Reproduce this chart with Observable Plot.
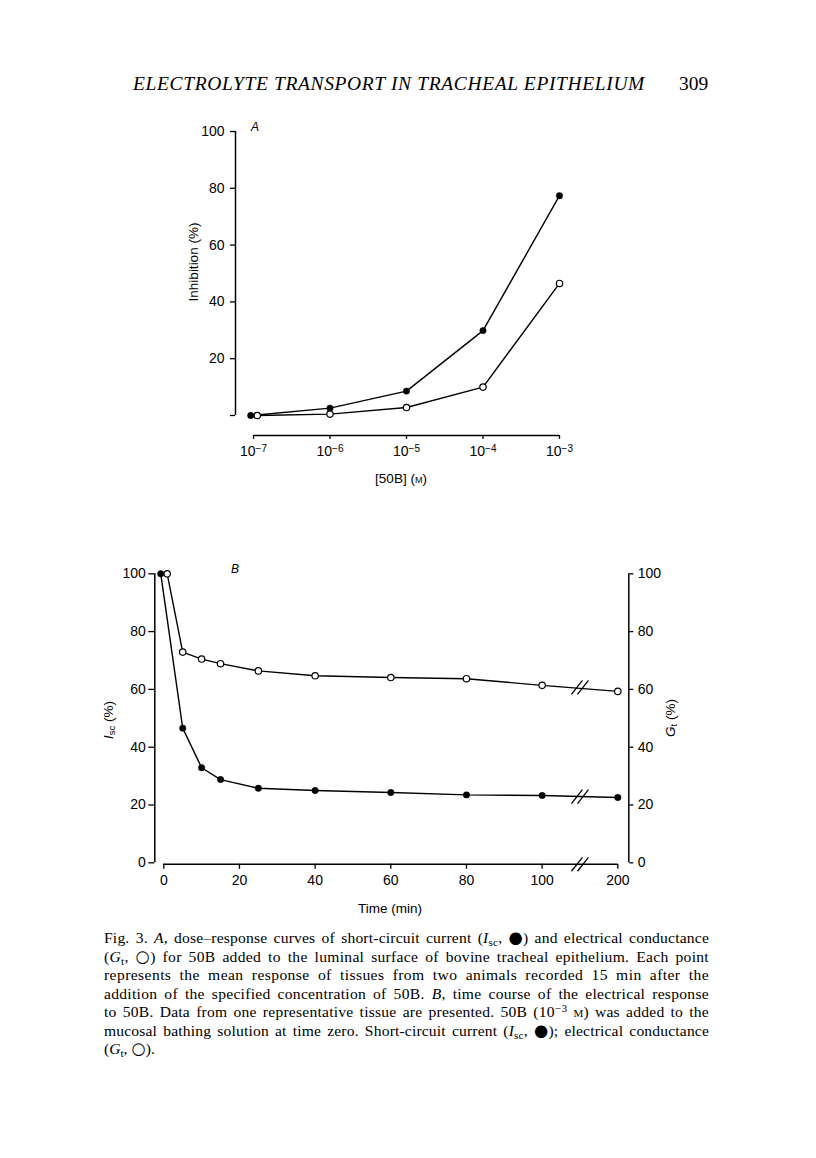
<!DOCTYPE html>
<html>
<head>
<meta charset="utf-8">
<script src="https://cdn.jsdelivr.net/npm/d3@7"></script>
<script src="https://cdn.jsdelivr.net/npm/@observablehq/plot@0.6"></script>
<style>
  body { margin: 0; background: #fff; }
  #page { position: relative; width: 816px; height: 1158px; overflow: hidden; background: #fff; color: #000; }
  .abs { position: absolute; white-space: nowrap; }
  .serif { font-family: "Liberation Serif", "Times New Roman", serif; }
  .sans { font-family: "Liberation Sans", Arial, sans-serif; }
  .rot { transform: translate(-50%, -50%) rotate(-90deg); }
  .ctr { transform: translate(-50%, -50%); }
  #caption { position: absolute; left: 104px; top: 929px; width: 605px; font-size: 15.6px; line-height: 18.5px; }
  #caption .ln { display: block; height: 18.5px; }
  #caption .ln span.t { display: inline-block; white-space: nowrap; }
  .dot { font-family: "DejaVu Sans", sans-serif; font-size: 1.05em; line-height: 0; }
  sub { font-size: 0.72em; line-height: 0; vertical-align: -0.3em; }
  sup { font-size: 0.72em; line-height: 0; vertical-align: 0.45em; }
  .sc { font-variant: small-caps; }
</style>
</head>
<body>
<div id="page">
  <div id="hdr" class="abs serif" style="left:133px; top:74px; font-size:19.5px; line-height:20px; font-style:italic;"><span id="hdrText">ELECTROLYTE TRANSPORT IN TRACHEAL EPITHELIUM</span></div>
  <div class="abs serif" style="left:679px; top:74px; font-size:19.5px; line-height:20px;">309</div>

  <div class="abs sans" style="left:251px; top:121px; font-size:12px; line-height:12px; font-style:italic;">A</div>
  <div class="abs sans rot" style="left:193px; top:262px; font-size:13.5px;">Inhibition (%)</div>
  <div class="abs sans ctr" style="left:401px; top:478px; font-size:13.5px;">[50B] (<span class="sc">m</span>)</div>

  <div class="abs sans" style="left:231px; top:563px; font-size:12px; line-height:12px; font-style:italic;">B</div>
  <div class="abs sans rot" style="left:108px; top:720px; font-size:13.5px;"><i>I</i><sub>sc</sub> (%)</div>
  <div class="abs sans rot" style="left:670px; top:718px; font-size:13.5px;"><i>G</i><sub>t</sub> (%)</div>
  <div class="abs sans ctr" style="left:390px; top:908px; font-size:13.5px;">Time (min)</div>

  <div id="caption" class="serif">
    <div class="ln"><span class="t">Fig. 3. <i>A</i>, dose–response curves of short-circuit current (<i>I</i><sub>sc</sub>, <span class="dot">●</span>) and electrical conductance</span></div>
    <div class="ln"><span class="t">(<i>G</i><sub>t</sub>, <span class="dot">○</span>) for 50B added to the luminal surface of bovine tracheal epithelium. Each point</span></div>
    <div class="ln"><span class="t">represents the mean response of tissues from two animals recorded 15 min after the</span></div>
    <div class="ln"><span class="t">addition of the specified concentration of 50B. <i>B</i>, time course of the electrical response</span></div>
    <div class="ln"><span class="t">to 50B. Data from one representative tissue are presented. 50B (10<sup>−3</sup> <span class="sc">m</span>) was added to the</span></div>
    <div class="ln"><span class="t">mucosal bathing solution at time zero. Short-circuit current (<i>I</i><sub>sc</sub>, <span class="dot">●</span>); electrical conductance</span></div>
    <div class="ln"><span class="t last">(<i>G</i><sub>t</sub>, <span class="dot">○</span>).</span></div>
  </div>
</div>
<script>
// ---------- Panel A data ----------
const concIscA = [0.92e-7, 1e-6, 1e-5, 1e-4, 1e-3];
const iscA     = [0, 2.6, 8.6, 29.9, 77.4];
const concGtA  = [1.12e-7, 1e-6, 1e-5, 1e-4, 1e-3];
const gtA      = [0, 0.5, 2.8, 10.0, 46.5];
const concTicksA = [1e-7, 1e-6, 1e-5, 1e-4, 1e-3];
const yTicksA  = [0, 20, 40, 60, 80, 100];

// ---------- Panel B data ----------
const timeIscB = [-0.8, 5, 10, 15, 25, 40, 60, 80, 100, 200];
const iscB     = [100, 46.6, 32.9, 28.8, 25.8, 25.0, 24.3, 23.5, 23.3, 22.6];
const timeGtB  = [0.9, 5, 10, 15, 25, 40, 60, 80, 100, 200];
const gtB      = [100, 72.9, 70.5, 68.9, 66.4, 64.7, 64.1, 63.7, 61.4, 59.3];
const timeTicksB = [0, 20, 40, 60, 80, 100, 200];
const yTicksB  = [0, 20, 40, 60, 80, 100];
const breakTimeB = 150;
const breakLevelsB = [0, 60.7, 22.9]; // axis, G_t line, I_sc line

// broken time axis: 100 -> 200 compressed
const timePos = t => (t <= 100 ? t : 100 + (t - 100) / 5);
const powLabel = d => "10^" + String(Math.round(Math.log10(d))).replace("-", "−");

const font = {fontFamily: "'Liberation Sans', Arial, sans-serif", fontSize: "14px", background: "transparent", color: "black", overflow: "visible"};
const page = document.getElementById("page");

// ---------- Panel A ----------
const dataIscA = concIscA.map((c, i) => ({c, v: iscA[i]}));
const dataGtA = concGtA.map((c, i) => ({c, v: gtA[i]}));

const plotA = Plot.plot({
  width: 816, height: 390,
  marginTop: 31, marginBottom: 75, marginLeft: 253, marginRight: 257,
  style: font,
  x: {type: "log", domain: [1e-7, 1e-3]},
  y: {domain: [0, 100]},
  marks: [
    Plot.ruleX([1e-7], {y1: 0, y2: 100, dx: -18, strokeWidth: 1.5}),
    Plot.axisY(yTicksA, {anchor: "left", dx: -18, tickSize: 5, tickPadding: 6, strokeWidth: 1.3, label: null, tickFormat: d => (d === 0 ? "" : d)}),
    Plot.ruleY([0], {x1: 1e-7, x2: 1e-3, dy: 20, strokeWidth: 1.5}),
    Plot.axisX(concTicksA, {anchor: "bottom", dy: 20, tickSize: 4, tickPadding: 7, strokeWidth: 1.3, label: null, tickFormat: powLabel}),
    Plot.line(dataGtA, {x: "c", y: "v", stroke: "black", strokeWidth: 1.4}),
    Plot.line(dataIscA, {x: "c", y: "v", stroke: "black", strokeWidth: 1.4}),
    Plot.dot(dataIscA, {x: "c", y: "v", r: 3.2, fill: "black", stroke: "black", strokeWidth: 0.5}),
    Plot.dot(dataGtA, {x: "c", y: "v", r: 3.2, fill: "white", stroke: "black", strokeWidth: 1.2})
  ]
});
// turn "10^−7" into 10 with a raised exponent
d3.select(plotA).selectAll("text").each(function () {
  const s = this.textContent;
  if (s.indexOf("^") < 0) return;
  const [base, exp] = s.split("^");
  const t = d3.select(this);
  t.text(base);
  t.append("tspan").attr("dy", "-0.45em").attr("font-size", "10px").text(exp);
});
plotA.style.position = "absolute";
plotA.style.left = "0px";
plotA.style.top = "100px";
page.appendChild(plotA);

// ---------- Panel B ----------
const dataIscB = timeIscB.map((t, i) => ({p: timePos(t), v: iscB[i]}));
const dataGtB = timeGtB.map((t, i) => ({p: timePos(t), v: gtB[i]}));
const tickLabelB = new Map(timeTicksB.map(t => [timePos(t), String(t)]));
const breaksB = breakLevelsB.map(v => ({p: timePos(breakTimeB), v}));
const slash = (data, dx, dy) => Plot.link(data, {
  x1: d => d.p - 1.45, x2: d => d.p + 1.45,
  y1: d => d.v - 2.4, y2: d => d.v + 2.4,
  dx, dy, stroke: "black", strokeWidth: 1.3
});

const plotB = Plot.plot({
  width: 816, height: 385,
  marginTop: 33.3, marginBottom: 62.7, marginLeft: 163.3, marginRight: 198.7,
  style: font,
  x: {domain: [0, 120]},
  y: {domain: [0, 100]},
  marks: [
    Plot.ruleX([0], {y1: 0, y2: 100, dx: -9, strokeWidth: 1.5}),
    Plot.axisY(yTicksB, {anchor: "left", dx: -9, tickSize: 6, tickPadding: 3, strokeWidth: 1.3, label: null}),
    Plot.ruleX([120], {y1: 0, y2: 100, dx: 11, strokeWidth: 1.5}),
    Plot.axisY(yTicksB, {anchor: "right", dx: 11, tickSize: 4, tickPadding: 5, strokeWidth: 1.3, label: null}),
    Plot.ruleY([0], {x1: 0, x2: 120, dy: 1.5, strokeWidth: 1.5}),
    Plot.axisX(timeTicksB.map(timePos), {anchor: "bottom", dy: 1.5, tickSize: 5, tickPadding: 6, strokeWidth: 1.3, label: null, tickFormat: d => tickLabelB.get(d)}),
    Plot.line(dataGtB, {x: "p", y: "v", stroke: "black", strokeWidth: 1.4}),
    Plot.line(dataIscB, {x: "p", y: "v", stroke: "black", strokeWidth: 1.4}),
    slash(breaksB.slice(0, 1), -3, 1.5),
    slash(breaksB.slice(0, 1), 3, 1.5),
    slash(breaksB.slice(1), -3, 0),
    slash(breaksB.slice(1), 3, 0),
    Plot.dot(dataIscB, {x: "p", y: "v", r: 3.2, fill: "black", stroke: "black", strokeWidth: 0.5}),
    Plot.dot(dataGtB, {x: "p", y: "v", r: 3.2, fill: "white", stroke: "black", strokeWidth: 1.2})
  ]
});
plotB.style.position = "absolute";
plotB.style.left = "0px";
plotB.style.top = "540px";
page.appendChild(plotB);

// ---------- text fitting ----------
function fitLetters(el, target) {
  const n = el.textContent.length;
  const w = el.getBoundingClientRect().width;
  el.style.letterSpacing = ((target - w) / n) + "px";
}
fitLetters(document.getElementById("hdrText"), 512);

document.querySelectorAll("#caption .ln span.t").forEach(el => {
  if (el.classList.contains("last")) return;
  const txt = el.textContent;
  const spaces = (txt.match(/ /g) || []).length;
  const w = el.getBoundingClientRect().width;
  const extra = 605 - w;
  if (extra > 0) {
    // share extra width between letters and word gaps
    el.style.letterSpacing = (extra * 0.4 / txt.length) + "px";
    const w2 = el.getBoundingClientRect().width;
    if (spaces) el.style.wordSpacing = ((605 - w2) / spaces) + "px";
  } else if (spaces) {
    el.style.wordSpacing = (extra / spaces) + "px";
  }
});
</script>
</body>
</html>
